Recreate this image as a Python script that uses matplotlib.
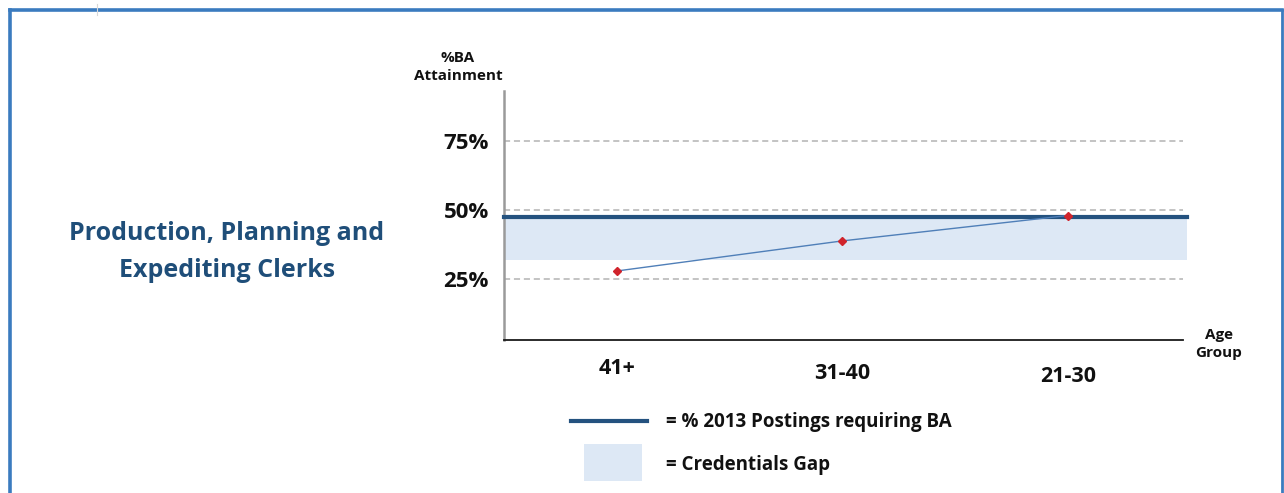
import matplotlib
matplotlib.use("Agg")
import matplotlib.pyplot as plt
import matplotlib.transforms as mtransforms
from matplotlib.lines import Line2D
from matplotlib.patches import Rectangle

# ---- data ----
age_groups = ["41+", "31-40", "21-30"]
ba_attainment = [27.9, 38.8, 48.0]
postings_requiring_ba = 47.5
gap_low = 32.0
y_ticks = [25, 50, 75]
y_tick_labels = ["25%", "50%", "75%"]
title = "Production, Planning and\nExpediting Clerks"

W, H = 1284, 493
fig = plt.figure(figsize=(W / 100, H / 100), dpi=100)
fig.patch.set_facecolor("white")
FONT = "Open Sans"

def px(x, y):
    return x / W, 1 - y / H

# frame
frame_c = "#3A7BBF"
fig.add_artist(Line2D([9.5 / W, 9.5 / W], [0, 1 - 9.5 / H], color=frame_c, lw=2.6, transform=fig.transFigure))
fig.add_artist(Line2D([9.5 / W, 1281.5 / W], [1 - 9.5 / H, 1 - 9.5 / H], color=frame_c, lw=2.6, transform=fig.transFigure))
fig.add_artist(Line2D([1281.5 / W, 1281.5 / W], [0, 1 - 9.5 / H], color=frame_c, lw=2.0, transform=fig.transFigure))
fig.add_artist(Line2D([96.5 / W, 96.5 / W], [1 - 4 / H, 1 - 15 / H], color="#d8d8d8", lw=0.8, transform=fig.transFigure))

# axes
l, r, t, b = 504, 1183, 91, 340
ax = fig.add_axes([l / W, 1 - b / H, (r - l) / W, (b - t) / H])
ax.set_xlim(-0.5, 2.51)
ax.set_ylim(2.9, 93.1)
ax.set_facecolor("none")

for s in ["top", "right"]:
    ax.spines[s].set_visible(False)
ax.spines["left"].set_color("#9a9a9a")
ax.spines["left"].set_linewidth(1.8)
ax.spines["bottom"].set_color("#1a1a1a")
ax.spines["bottom"].set_linewidth(1.3)

for yv in y_ticks:
    ax.axhline(yv, color="#b3b3b3", lw=1.1, ls=(0, (4, 2.5)), zorder=1)

ax.axhspan(gap_low, postings_requiring_ba, xmin=0, xmax=1.006, color="#DDE8F5", lw=0, zorder=0, clip_on=False)
ax.axhline(postings_requiring_ba, xmin=0, xmax=1.006, color="#24527F", lw=3.0, zorder=3, clip_on=False)

xs = list(range(len(age_groups)))
ax.plot(xs, ba_attainment, color="#4F7FB8", lw=1.0, zorder=4)
ax.plot(xs, ba_attainment, ls="none", marker="D", ms=3.8, color="#D0242C", zorder=5)

ax.set_yticks(y_ticks)
ax.set_yticklabels(y_tick_labels, fontsize=16, fontweight="bold", family=FONT, color="#111111")
ax.tick_params(axis="y", length=0, pad=11)
ax.set_xticks(xs)
ax.set_xticklabels(age_groups, fontsize=15.5, fontweight="bold", family=FONT, color="#111111")
ax.tick_params(axis="x", length=0, pad=13)
offsets = [0, -5, -8]
for lab, dy in zip(ax.get_xticklabels(), offsets):
    lab.set_transform(lab.get_transform() + mtransforms.ScaledTranslation(0, dy / 100, fig.dpi_scale_trans))

# axis titles
fig.text(*px(458, 67), "%BA\nAttainment", ha="center", va="center", fontsize=11, fontweight="bold",
         family=FONT, color="#111111", linespacing=1.45)
fig.text(*px(1219, 344), "Age\nGroup", ha="center", va="center", fontsize=11, fontweight="bold",
         family=FONT, color="#111111", linespacing=1.45)

# title
fig.text(*px(227, 252), title, ha="center", va="center", fontsize=18, fontweight="bold",
         family=FONT, color="#1F4E79", linespacing=1.6)

# legend
fig.add_artist(Line2D([571 / W, 647 / W], [1 - 421 / H, 1 - 421 / H], color="#24527F", lw=3.0, transform=fig.transFigure))
fig.add_artist(Rectangle(px(584, 481), 58 / W, 37 / H, color="#DDE8F5", lw=0, transform=fig.transFigure))
fig.text(*px(666, 422), "= % 2013 Postings requiring BA", ha="left", va="center", fontsize=13.5,
         fontweight="bold", family=FONT, color="#111111")
fig.text(*px(666, 465), "= Credentials Gap", ha="left", va="center", fontsize=13.5,
         fontweight="bold", family=FONT, color="#111111")

fig.savefig("out.png", dpi=100, facecolor="white")
